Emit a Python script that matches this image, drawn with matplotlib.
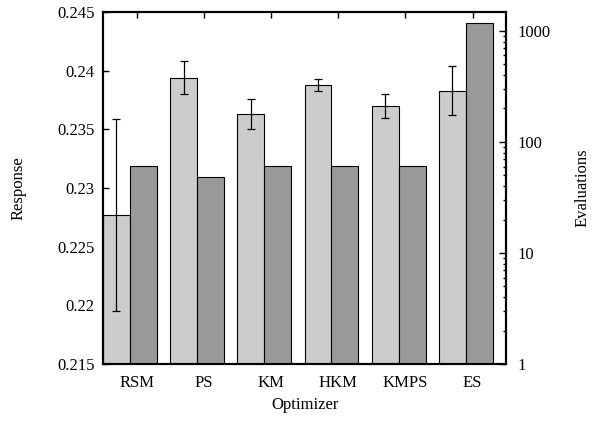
import numpy as np
import matplotlib.pyplot as plt
from matplotlib.ticker import FixedLocator, FixedFormatter, LogLocator, NullFormatter

# ==========================================
# Data
# ==========================================
optimizers = ['RSM', 'PS', 'KM', 'HKM', 'KMPS', 'ES']
response = [0.2277, 0.2394, 0.2363, 0.2388, 0.2370, 0.2383]
response_err = [0.0082, 0.0014, 0.0013, 0.0005, 0.0010, 0.0021]
evaluations = [61, 48, 61, 61, 61, 1180]

plt.rcParams['font.family'] = ['Liberation Serif', 'DejaVu Serif']
plt.rcParams['font.size'] = 12

fig = plt.figure(figsize=(5.92, 4.22), dpi=100)
ax = fig.add_axes([0.174, 0.137, 0.681, 0.835])
ax2 = ax.twinx()

x = np.arange(len(optimizers))
w = 0.4

ax.bar(x - 0.3, response, width=w, color='#cccccc', edgecolor='black', linewidth=0.8, zorder=2)
ax.errorbar(x - 0.3, response, yerr=response_err, fmt='none', ecolor='black',
            elinewidth=0.9, capsize=3, capthick=0.9, zorder=3)
ax2.bar(x + 0.1, evaluations, width=w, color='#999999', edgecolor='black', linewidth=0.8,
        bottom=0, zorder=2)

ax.set_xlim(-0.5, 5.5)
ax.set_ylim(0.215, 0.245)
ax.set_yticks([0.215, 0.22, 0.225, 0.23, 0.235, 0.24, 0.245])
ax.set_yticklabels(['0.215', '0.22', '0.225', '0.23', '0.235', '0.24', '0.245'])
ax.set_xticks(x)
ax.set_xticklabels(optimizers)
ax.tick_params(axis='x', direction='in', top=True, length=4, width=1, pad=8)
ax.tick_params(axis='y', direction='in', length=4, width=1, pad=6)

ax2.set_yscale('log')
ax2.set_ylim(1, 1480)
ax2.yaxis.set_major_locator(FixedLocator([1, 10, 100, 1000]))
ax2.yaxis.set_major_formatter(FixedFormatter(['1', '10', '100', '1000']))
ax2.yaxis.set_minor_locator(LogLocator(base=10, subs=np.arange(2, 10)))
ax2.yaxis.set_minor_formatter(NullFormatter())
ax2.tick_params(axis='y', which='major', direction='in', length=5, width=1, pad=8)
ax2.tick_params(axis='y', which='minor', direction='in', length=2.5, width=1)

for a in (ax, ax2):
    for s in a.spines.values():
        s.set_linewidth(1.5)

ax.set_ylabel('Response', labelpad=22)
ax.set_xlabel('Optimizer', labelpad=4)
fig.text(583 / 592, 0.555, 'Evaluations', rotation=90, ha='center', va='center')

plt.savefig('out.png', dpi=100)
